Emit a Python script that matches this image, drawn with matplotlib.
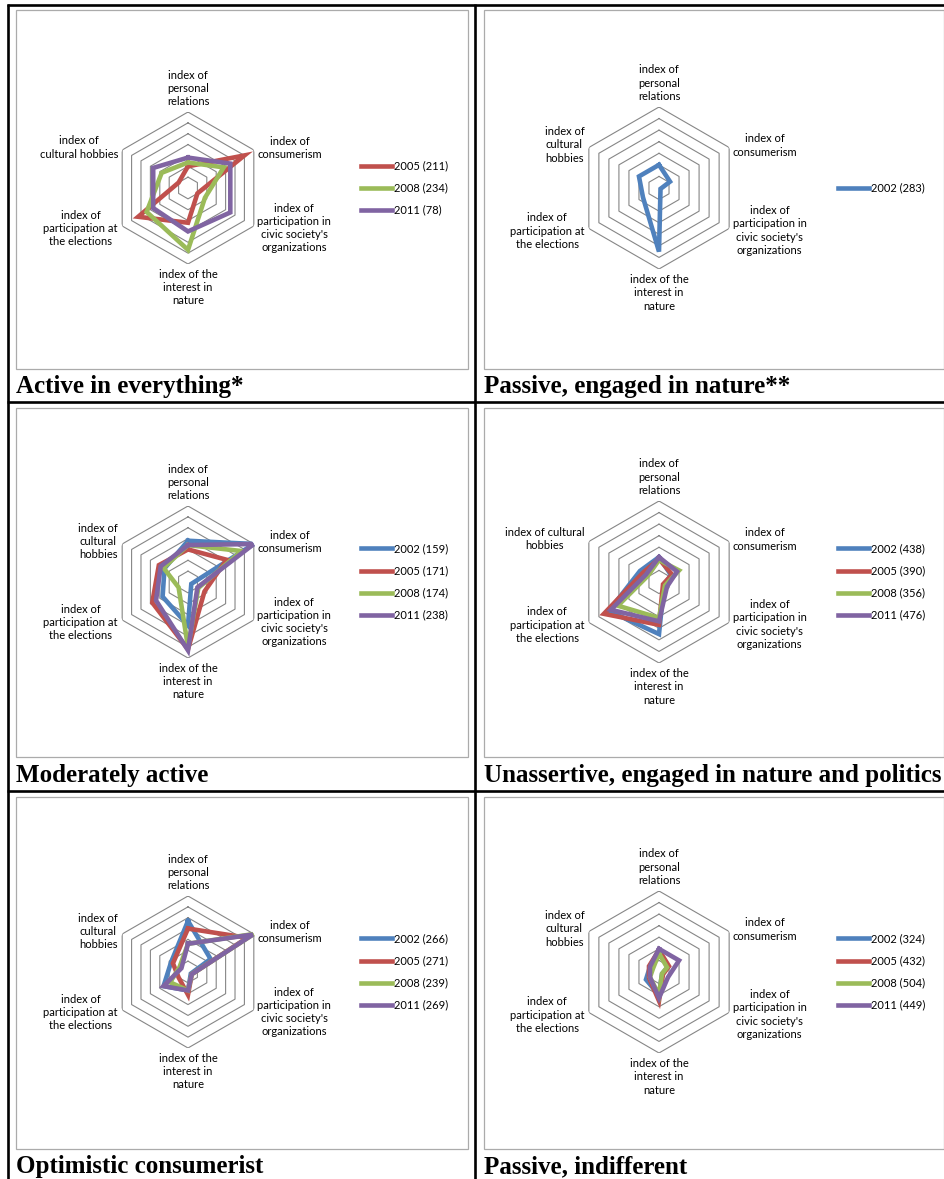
import matplotlib
matplotlib.use("Agg")
import matplotlib.pyplot as plt
from matplotlib.lines import Line2D
from matplotlib.patches import Rectangle
import numpy as np

W, H = 945, 1179

# axes of every radar, clockwise from the top
axis_names = ["personal", "consumerism", "civic", "nature", "elections", "cultural"]

year_colors = {"2002": "#4F81BD", "2005": "#C0504D", "2008": "#9BBB59", "2011": "#8064A2"}

# --- data (values in grid-ring units, 0..7) ---
titles = ["Active in everything*", "Passive, engaged in nature**",
          "Moderately active", "Unassertive, engaged in nature and politics",
          "Optimistic consumerist", "Passive, indifferent"]

legend_active = ["2005 (211)", "2008 (234)", "2011 (78)"]
vals_active = [[2.0, 6.0, 1.0, 3.2, 5.3, 1.0],
               [2.35, 3.8, 1.8, 5.7, 4.4, 2.8],
               [2.8, 4.5, 4.5, 4.0, 3.7, 3.7]]

legend_passive_nature = ["2002 (283)"]
vals_passive_nature = [[2.0, 1.1, 0.15, 5.5, 1.6, 2.0]]

legend_moderate = ["2002 (159)", "2005 (171)", "2008 (174)", "2011 (238)"]
vals_moderate = [[3.8, 7.0, 0.35, 4.0, 2.7, 2.5],
                 [3.0, 4.1, 1.75, 6.2, 3.8, 3.1],
                 [3.4, 5.7, 1.1, 6.0, 1.0, 2.6],
                 [3.4, 7.0, 1.0, 6.3, 3.4, 2.9]]

legend_unassertive = ["2002 (438)", "2005 (390)", "2008 (356)", "2011 (476)"]
vals_unassertive = [[2.15, 1.2, 0.5, 4.5, 5.0, 1.9],
                    [2.0, 1.3, 0.4, 3.7, 5.5, 1.6],
                    [1.9, 2.0, 0.6, 3.1, 4.1, 1.1],
                    [2.15, 1.8, 0.8, 3.4, 4.8, 1.3]]

legend_optimistic = ["2002 (266)", "2005 (271)", "2008 (239)", "2011 (269)"]
vals_optimistic = [[4.7, 2.4, 0.3, 1.7, 2.6, 1.8],
                   [4.0, 6.3, 0.4, 2.1, 1.0, 1.6],
                   [2.6, 7.0, 0.4, 1.7, 1.9, 0.9],
                   [2.6, 6.9, 0.4, 1.7, 2.6, 0.7]]

legend_indifferent = ["2002 (324)", "2005 (432)", "2008 (504)", "2011 (449)"]
vals_indifferent = [[1.8, 0.9, 0.3, 2.0, 1.3, 0.9],
                    [1.9, 1.0, 0.4, 2.5, 1.0, 1.0],
                    [1.6, 0.8, 0.3, 2.0, 0.9, 0.6],
                    [2.0, 2.0, 0.9, 2.25, 0.9, 0.9]]

cultural_labels = ["index of\ncultural hobbies", "index of\ncultural\nhobbies",
                   "index of\ncultural\nhobbies", "index of cultural\nhobbies",
                   "index of\ncultural\nhobbies", "index of\ncultural\nhobbies"]

all_legends = [legend_active, legend_passive_nature, legend_moderate,
               legend_unassertive, legend_optimistic, legend_indifferent]
all_vals = [vals_active, vals_passive_nature, vals_moderate,
            vals_unassertive, vals_optimistic, vals_indifferent]

# --- layout (pixels) ---
col_x = [16, 484]
col_w = [452, 460]
row_y = [10, 408, 797]
row_h = [359, 349, 352]
title_base = [393, 782, 1173]
centers_x = [188, 659]
centers_y = [188, 582, 972]
radius = [76, 81]
legend_x = [361, 838]

plt.rcParams['font.family'] = ['Lato', 'DejaVu Sans']


def fx(x):
    return x / W


def fy(y):
    return 1 - y / H


fig = plt.figure(figsize=(W / 100, H / 100), dpi=100)
fig.patch.set_facecolor("white")

# table lines
tbl = dict(color="black", lw=1.9, solid_capstyle="butt")
fig.add_artist(Line2D([fx(8), fx(8)], [fy(4), fy(H)], **tbl))
fig.add_artist(Line2D([fx(7), fx(W)], [fy(5), fy(5)], **tbl))
fig.add_artist(Line2D([fx(475.5), fx(475.5)], [fy(4), fy(H)], **tbl))
fig.add_artist(Line2D([fx(7), fx(W)], [fy(402), fy(402)], **tbl))
fig.add_artist(Line2D([fx(7), fx(W)], [fy(791), fy(791)], **tbl))

theta = np.arange(6) * 2 * np.pi / 6
theta_c = np.append(theta, theta[0])

for i in range(6):
    r, c = divmod(i, 2)
    # chart area frame
    fig.add_artist(Rectangle((fx(col_x[c]), fy(row_y[r] + row_h[r])),
                             col_w[c] / W, row_h[r] / H, fill=False,
                             edgecolor="#ABABAB", lw=0.9))
    fig.text(fx(col_x[c]), fy(title_base[r]), titles[i], family="Liberation Serif",
             weight="bold", fontsize=18, va="baseline", ha="left")

    R = radius[c]
    cx, cy = centers_x[c], centers_y[r]
    ax = fig.add_axes([fx(cx - R), fy(cy + R), 2 * R / W, 2 * R / H], projection="polar")
    ax.set_theta_offset(np.pi / 2)
    ax.set_theta_direction(-1)
    ax.set_ylim(0, 7)
    ax.grid(False)
    ax.set_xticks([])
    ax.set_yticks([])
    ax.spines["polar"].set_visible(False)
    ax.patch.set_alpha(0)

    for k in range(1, 8):
        ax.plot(theta_c, [k] * 7, color="#868686", lw=0.8, zorder=1)

    handles = []
    for lab, v in zip(all_legends[i], all_vals[i]):
        col = year_colors[lab[:4]]
        ln, = ax.plot(theta_c, v + v[:1], color=col, lw=3.3, solid_joinstyle="miter",
                      zorder=3, label=lab)
        handles.append(ln)

    fs = 8
    lab_kw = dict(fontsize=fs, linespacing=1.25, multialignment="center", clip_on=False)
    ax.text(theta[0], 7.45, "index of\npersonal\nrelations", ha="center", va="bottom", **lab_kw)
    ax.text(theta[1], 7.35, "index of\nconsumerism", ha="left", va="center", **lab_kw)
    ax.text(theta[2], 7.35, "index of\nparticipation in\ncivic society's\norganizations",
            ha="left", va="center", **lab_kw)
    ax.text(theta[3], 7.45, "index of the\ninterest in\nnature", ha="center", va="top", **lab_kw)
    ax.text(theta[4], 7.45, "index of\nparticipation at\nthe elections",
            ha="right", va="center", **lab_kw)
    ax.text(theta[5], 7.45, cultural_labels[i], ha="right", va="center", **lab_kw)

    ax.legend(handles=handles, loc="center left", bbox_to_anchor=(fx(legend_x[c]), fy(cy)),
              bbox_transform=fig.transFigure, frameon=False, fontsize=fs,
              handlelength=2.8, handletextpad=0.15, labelspacing=1.0,
              borderpad=0, borderaxespad=0)

fig.savefig("out.png", dpi=100)
